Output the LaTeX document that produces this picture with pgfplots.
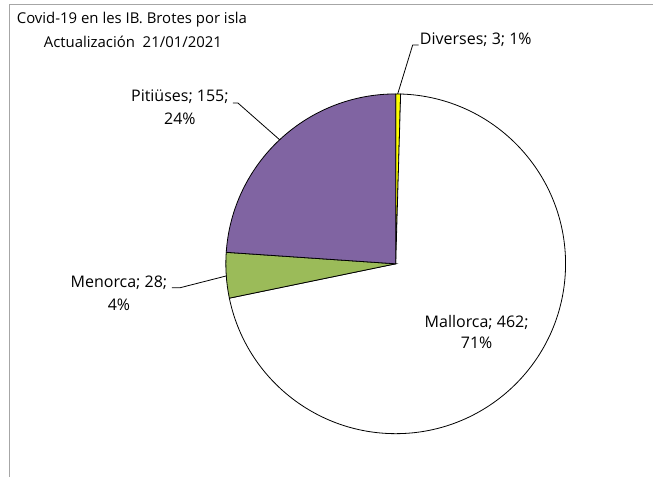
\documentclass[border=0pt]{standalone}
\usepackage{fontspec}
\setmainfont{Open Sans}
\usepackage{pgfplots}
\usepackage{pgfplotstable}
\pgfplotsset{compat=1.18}
\definecolor{pitcol}{HTML}{8064A2}
\definecolor{mencol}{HTML}{9BBB59}
\definecolor{divcol}{HTML}{FFFF00}
\definecolor{framecol}{HTML}{A6A6A6}
\pgfplotstableread{
name value
Diverses 3
Mallorca 462
Menorca 28
Pitiuses 155
}\piedata
\pgfplotstablegetelem{0}{value}\of\piedata\let\vA\pgfplotsretval
\pgfplotstablegetelem{1}{value}\of\piedata\let\vB\pgfplotsretval
\pgfplotstablegetelem{2}{value}\of\piedata\let\vC\pgfplotsretval
\pgfplotstablegetelem{3}{value}\of\piedata\let\vD\pgfplotsretval
\pgfmathsetmacro\tot{\vA+\vB+\vC+\vD}
\pgfmathsetmacro\aA{90}
\pgfmathsetmacro\aB{\aA-360*(\vA/\tot)}
\pgfmathsetmacro\aC{\aB-360*(\vB/\tot)}
\pgfmathsetmacro\aD{\aC-360*(\vC/\tot)}
\pgfmathsetmacro\aE{\aD-360*(\vD/\tot)}
\begin{document}%
\begin{tikzpicture}[font=\fontsize{12}{14}\selectfont]
\begin{axis}[x=0.75pt, y=0.75pt, xmin=0, xmax=653, ymin=0, ymax=477,
  hide axis, clip=false, anchor=origin, at={(0,0)}]
\path (axis cs:0,0) rectangle (axis cs:653,477);
\draw[framecol, line width=0.75pt] (axis cs:10,0) -- (axis cs:10,472) -- (axis cs:653,472);
% slices
\filldraw[fill=divcol, draw=black, line width=0.6pt] (axis cs:396,213) -- (axis cs:{396+170*cos(\aA)},{213+170*sin(\aA)}) arc[start angle=\aA, end angle=\aB, radius=170] -- cycle;
\filldraw[fill=white, draw=black, line width=0.6pt] (axis cs:396,213) -- (axis cs:{396+170*cos(\aB)},{213+170*sin(\aB)}) arc[start angle=\aB, end angle=\aC, radius=170] -- cycle;
\filldraw[fill=mencol, draw=black, line width=0.6pt] (axis cs:396,213) -- (axis cs:{396+170*cos(\aC)},{213+170*sin(\aC)}) arc[start angle=\aC, end angle=\aD, radius=170] -- cycle;
\filldraw[fill=pitcol, draw=black, line width=0.6pt] (axis cs:396,213) -- (axis cs:{396+170*cos(\aD)},{213+170*sin(\aD)}) arc[start angle=\aD, end angle=\aE, radius=170] -- cycle;
% leader lines
\draw[black, line width=0.6pt] (axis cs:398,383) -- (axis cs:413,432) -- (axis cs:419,432);
\draw[black, line width=0.6pt] (axis cs:233,374) -- (axis cs:238,374) -- (axis cs:280,337);
\draw[black, line width=0.6pt] (axis cs:172,189) -- (axis cs:180,189) -- (axis cs:227,201);
% labels
\node[anchor=west, inner sep=0pt] at (axis cs:420,437) {Diverses; 3; 1\%};
\node[inner sep=0pt] at (axis cs:180,380) {Pitiüses; 155;};
\node[inner sep=0pt] at (axis cs:180,358) {24\%};
\node[inner sep=0pt] at (axis cs:119,194) {Menorca; 28;};
\node[inner sep=0pt] at (axis cs:119,172) {4\%};
\node[inner sep=0pt] at (axis cs:477,154) {Mallorca; 462;};
\node[inner sep=0pt] at (axis cs:477,134) {71\%};
\node[inner sep=0pt, font=\fontsize{11.2}{13}\selectfont] at (axis cs:132,457) {Covid-19 en les IB.\ Brotes\ por isla};
\node[inner sep=0pt, font=\fontsize{11.2}{13}\selectfont] at (axis cs:133,435) {Actualización\ \ 21/01/2021};
\end{axis}
\end{tikzpicture}%
\end{document}
